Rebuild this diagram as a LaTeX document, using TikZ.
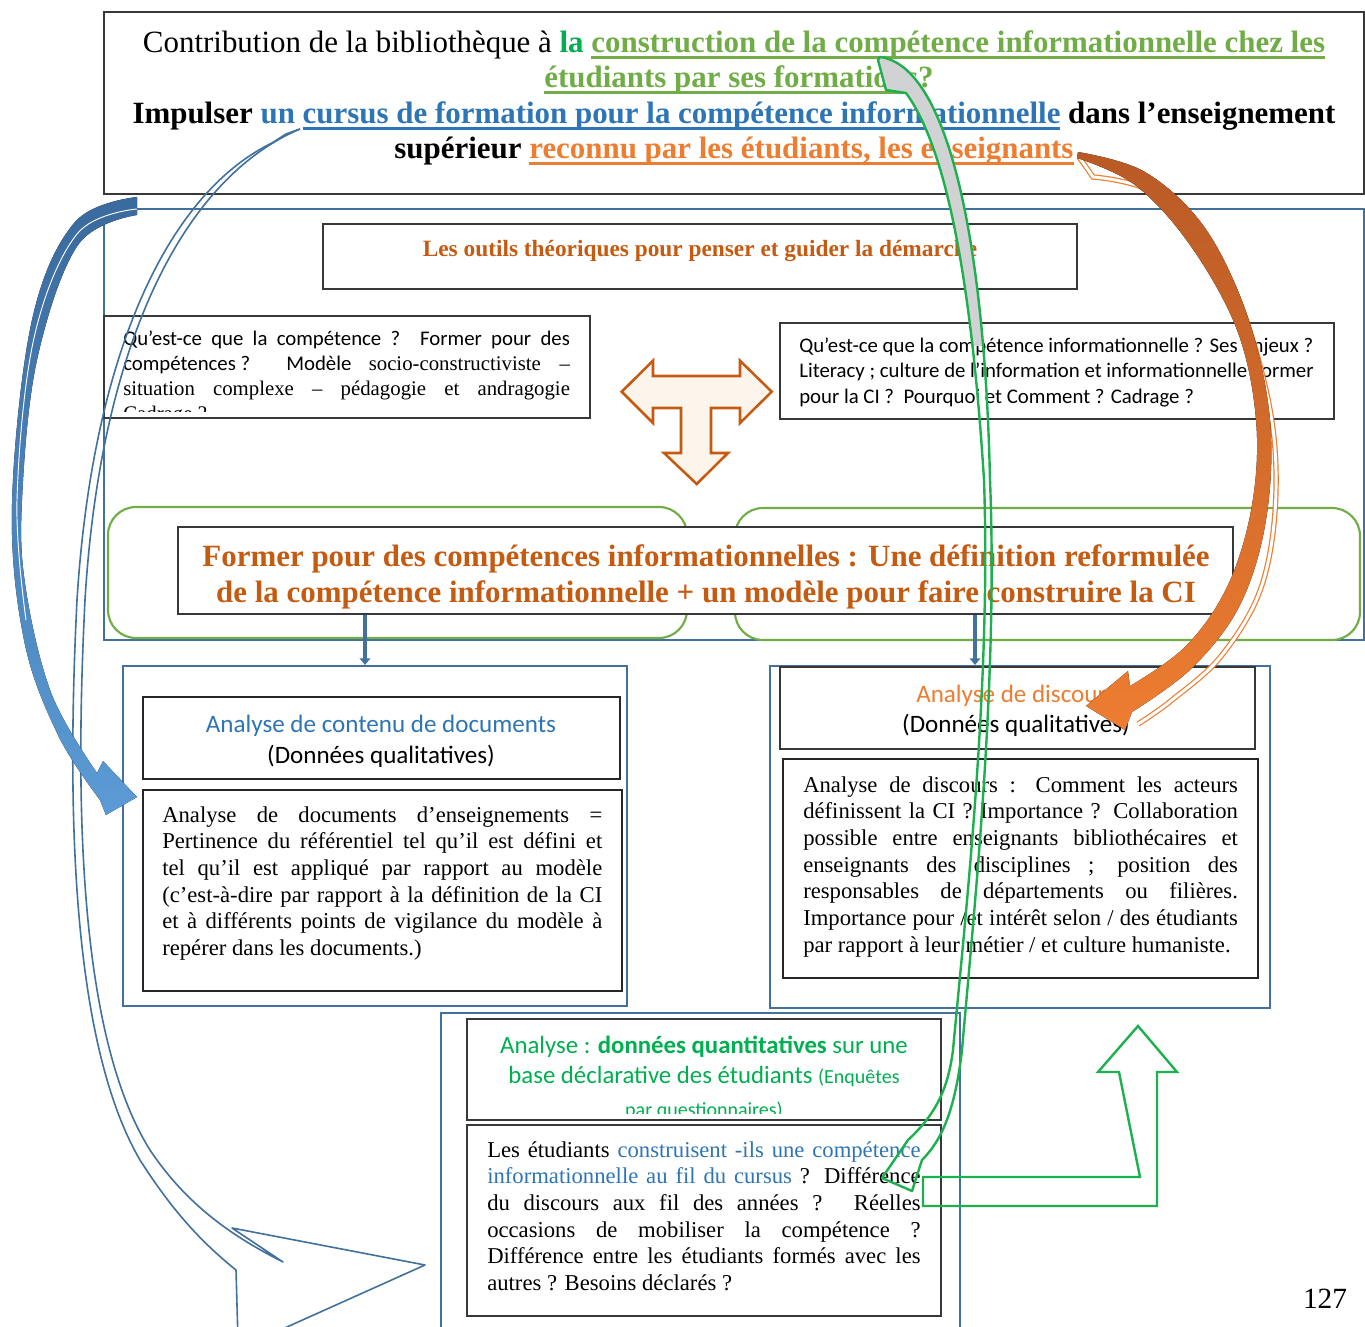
\documentclass[tikz,border=0pt]{standalone}
\usepackage{fontspec}
\setmainfont{Liberation Serif}
\newfontfamily\cali{Carlito}
\usetikzlibrary{arrows.meta,fit}
\definecolor{cframe}{HTML}{41719C}
\definecolor{cblue}{HTML}{2E75B6}
\definecolor{corange}{HTML}{ED7D31}
\definecolor{corangeD}{HTML}{C55A11}
\definecolor{cgreenA}{HTML}{00B050}
\definecolor{cgreenB}{HTML}{70AD47}
\definecolor{cgreenL}{HTML}{1DB04E}
\definecolor{ccream}{HTML}{FBF5EB}
\definecolor{cgray}{HTML}{D0D2D3}
\definecolor{cblueD}{HTML}{3A6A9E}
\definecolor{cblueL}{HTML}{5B9BD5}
\definecolor{corangeT}{HTML}{B95A25}
\newcommand\myul[1]{\setbox0=\hbox{#1}\rlap{\raisebox{-4.6pt}{\rule{\wd0}{2.1pt}}}\box0}
\begin{document}
\begin{tikzpicture}[x=0.75pt,y=-0.75pt,
  box/.style={draw=black!78, fill=white, line width=1.1pt, inner sep=0pt},
  boxb/.style={draw=black!85, fill=white, line width=1.5pt, inner sep=0pt},
  bframe/.style={draw=cframe, line width=1.6pt, inner sep=0pt},
  gframe/.style={draw=cgreenB, line width=1.6pt, rounded corners=21pt, inner sep=0pt},
  conn/.style={draw=cframe, line width=2.6pt, -{Triangle[length=5pt,width=8pt]}},
  ttl/.style={anchor=base, inner sep=0pt, font=\fontsize{23.2}{27}\selectfont},
  lbl/.style={anchor=base, inner sep=0pt},
  para/.style={anchor=north west, inner sep=0pt, font=\fontsize{17}{20}\selectfont},
  bline/.style={draw=cframe, line width=1.2pt, line join=round},
]
\useasboundingbox (0,0) rectangle (1365,1327);
\fill[white] (0,0) rectangle (1365,1327);

% ---------- title ----------
\node[box, fit={(104,12) (1364,194)}] (title) {};
\node[ttl] (t1) at (734,53) {Contribution de la bibliothèque à {\bfseries\color{cgreenA}la {\color{cgreenB}\myul{construction de la compétence informationnelle chez les}}}};
\node[ttl] (t2) at (739,88) {\bfseries\color{cgreenB}\myul{étudiants par ses formations} ?};
\node[ttl] (t3) at (734,124) {\bfseries Impulser {\color{cblue}un \myul{cursus de formation pour la compétence informationnelle}} dans l’enseignement};
\node[ttl] (t4) at (734,159) {\bfseries supérieur {\color{corange}\myul{reconnu par les étudiants, les enseignants}}};

% ---------- upper frame ----------
\node[bframe, fit={(104,209) (1364,640)}] (frame) {};
\node[box, fit={(323,224) (1077,289)}] (outils) {};
\node[lbl, font=\fontsize{17.5}{21}\selectfont\bfseries, text=corangeD] (outilst) at (700,257) {Les outils théoriques pour penser et guider la démarche};

\node[box, fit={(104,316) (590,418)}] (qleft) {};
\begin{scope}
\clip (104,316) rectangle (590,411);
\node[anchor=north west, inner sep=0pt, font=\cali\fontsize{15.6}{18.75}\selectfont] (qleftt) at (123,327.7) {\vbox{%
\hbox to 335pt{\rule{0pt}{13pt}Qu’est-ce que la compétence ? Former pour des}%
\hbox to 335pt{compétences ?\hspace{27pt}Modèle\hspace{13pt}{\rmfamily socio-constructiviste\hfill–}}%
\hbox to 335pt{\rmfamily situation complexe – pédagogie et andragogie}%
\hbox{\rmfamily Cadrage ?}}};
\end{scope}

\node[box, fit={(780,323) (1334,419)}] (qright) {};
\node[anchor=north west, inner sep=0pt, font=\cali\fontsize{15.6}{19.1}\selectfont] (qrightt) at (799,334.7) {\vbox{%
\hbox{\rule{0pt}{13pt}Qu’est-ce que la compétence informationnelle ? Ses enjeux ?}%
\hbox{Literacy ; culture de l’information et informationnelle Former}%
\hbox{pour la CI ?\ \ Pourquoi et Comment ? Cadrage ?}}};

% T-shaped arrow
\filldraw[fill=ccream, draw=corangeD, line width=1.9pt, line join=miter]
 (621.7,391.7) -- (653,360.7) -- (653,376) -- (740,376) -- (740,360.7) -- (771.7,391.7)
 -- (740,423) -- (740,408) -- (711,408) -- (711,453) -- (728,453) -- (696.7,484)
 -- (664,453) -- (681,453) -- (681,408) -- (653,408) -- (653,423) -- cycle;

\node[gframe, fit={(108,507) (687,638)}] (gl) {};
\node[gframe, fit={(735,508) (1360,640)}] (gr) {};
\node[box, fit={(178,527) (1233,614)}] (former) {};
\node[ttl, text=corangeD, font=\fontsize{23.2}{27}\selectfont\bfseries] (f1) at (706,566) {Former pour des compétences informationnelles : Une définition reformulée};
\node[ttl, text=corangeD, font=\fontsize{23.2}{27}\selectfont\bfseries] (f2) at (706,602) {de la compétence informationnelle + un modèle pour faire construire la CI};

% ---------- left analysis ----------
\node[bframe, fit={(123,666) (627,1006)}] (leftana) {};
\node[boxb, fit={(143,697) (620,779)}] (lhead) {};
\node[lbl, font=\cali\fontsize{18.8}{23}\selectfont, text=cblue] (lh1) at (381,732) {Analyse de contenu de documents};
\node[lbl, font=\cali\fontsize{18.8}{23}\selectfont] (lh2) at (381,763) {(Données qualitatives)};
\node[boxb, fit={(143,790) (622,991)}] (lbody) {};
\node[para] (lbodyt) at (162,803.3) {\vbox{%
\hbox to 330pt{\rule{0pt}{14pt}Analyse de documents d’enseignements =}%
\hbox to 330pt{Pertinence du référentiel tel qu’il est défini et}%
\hbox to 330pt{tel qu’il est appliqué par rapport au modèle}%
\hbox to 330pt{(c’est-à-dire par rapport à la définition de la CI}%
\hbox to 330pt{et à différents points de vigilance du modèle à}%
\hbox{repérer dans les documents.)}}};

% ---------- right analysis ----------
\node[bframe, fit={(770,666) (1270,1008)}] (rightana) {};
\node[box, fit={(780,667) (1255,749)}] (rhead) {};
\node[lbl, font=\cali\fontsize{18.8}{23}\selectfont, text=corange] (rh1) at (1016,702) {Analyse de discours};
\node[lbl, font=\cali\fontsize{18.8}{23}\selectfont] (rh2) at (1016,732) {(Données qualitatives)};
\node[boxb, fit={(783,759) (1258,978)}] (rbody) {};
\node[para] (rbodyt) at (803,773.3) {\vbox{%
\hbox to 326pt{\rule{0pt}{14pt}Analyse de discours : Comment les acteurs}%
\hbox to 326pt{définissent la CI ? Importance ? Collaboration}%
\hbox to 326pt{possible entre enseignants bibliothécaires et}%
\hbox to 326pt{enseignants des disciplines ; position des}%
\hbox to 326pt{responsables de départements ou filières.}%
\hbox to 326pt{Importance pour /et intérêt selon / des étudiants}%
\hbox{par rapport à leur métier / et culture humaniste.}}};

% ---------- bottom analysis ----------
\draw[draw=cframe, line width=1.6pt] (441,1340) -- (441,1013) -- (960,1013) -- (960,1340);
\node[box, fit={(467,1019) (941,1120)}] (bhead) {};
\begin{scope}
\clip (467,1019) rectangle (941,1113);
\node[lbl, font=\cali\fontsize{18.6}{22.5}\selectfont, text=cgreenA] (bh1) at (704,1053) {Analyse : {\bfseries données quantitatives} sur une};
\node[lbl, font=\cali\fontsize{18.6}{22.5}\selectfont, text=cgreenA] (bh2) at (704,1083) {base déclarative des étudiants {\fontsize{15}{18}\selectfont(Enquêtes}};
\node[lbl, font=\cali\fontsize{15}{18}\selectfont, text=cgreenA] (bh3) at (704,1116) {par questionnaires)};
\end{scope}
\node[box, fit={(467,1125) (941,1316)}] (bbody) {};
\node[para] (bbodyt) at (487,1138.3) {\vbox{%
\hbox to 325pt{\rule{0pt}{14pt}Les étudiants {\color{cblue}construisent -ils une compétence}}%
\hbox to 325pt{{\color{cblue}informationnelle au fil du cursus} ? Différence}%
\hbox to 325pt{du discours aux fil des années ? Réelles}%
\hbox to 325pt{occasions de mobiliser la compétence ?}%
\hbox to 325pt{Différence entre les étudiants formés avec les}%
\hbox{autres ? Besoins déclarés ?}}};

\node[lbl, font=\fontsize{22}{26}\selectfont] (page) at (1325,1308) {127};

% ---------- small connectors ----------
\coordinate (xl) at (365,0);
\coordinate (xr) at (975,0);
\draw[conn] (former.south -| xl) -- (leftana.north -| xl);
\draw[conn] (former.south -| xr) -- (rightana.north -| xr);

% ---------- blue outline arrow ----------
\draw[bline] (272,143) -- (286,134) -- (300,129);
\draw[bline] (272,143) .. controls (165,195) and (92,360) .. (77,600)
  .. controls (67,800) and (70,1040) .. (140,1160)
  .. controls (175,1215) and (205,1245) .. (236,1270) -- (238,1340);
\draw[bline] (300,129) .. controls (180,180) and (100,350) .. (85,600)
  .. controls (75,800) and (78,1035) .. (150,1150)
  .. controls (190,1210) and (240,1240) .. (283,1262)
  -- (232,1228) -- (425,1265) -- (258,1340);

% ---------- blue thick arrow ----------
\fill[top color=cblueD, bottom color=cblueL]
 plot[smooth, tension=0.6] coordinates {(137,197) (75,222) (32,320) (12,504) (24,640) (58,735) (100,800)}
 -- (106,815) -- (137,797) -- (103,761) -- (97,773)
 -- plot[smooth, tension=0.6] coordinates {(97,773) (52,695) (26,590) (22,500) (37,360) (78,245) (137,215)} -- cycle;
\draw[white, line width=0.7pt] plot[smooth, tension=0.6] coordinates {(137,209) (77,234) (34,338) (17,500) (26,620)};

% ---------- green arrow ----------
\def\greenarrow{(880,57) .. controls (950,66) and (985,250) .. (990,480)
 .. controls (998,680) and (975,900) .. (962,1050)
 .. controls (955,1110) and (942,1140) .. (922,1160)
 -- (912,1191) -- (882,1178) -- (908,1140)
 .. controls (935,1115) and (948,1090) .. (953,1050)
 .. controls (967,900) and (991,680) .. (984,480)
 .. controls (972,290) and (948,150) .. (906,93)
 -- (886,90) -- (878,60) -- cycle}
\begin{scope}
\clip (800,40) rectangle (1100,345);
\fill[cgray] \greenarrow;
\end{scope}
\draw[cgreenL, line width=1.8pt, line join=round] \greenarrow;

% green L arrow
\draw[cgreenL, line width=1.8pt, line join=miter]
 (923,1177) -- (1140,1177) -- (1119,1072) -- (1098,1072) -- (1138,1026) -- (1177,1072)
 -- (1157,1072) -- (1157,1206) -- (923,1206) -- cycle;

% ---------- orange arrow ----------
\draw[corange, line width=0.9pt, double=white, double distance=2.2pt]
 (1079,157) -- (1093,177) -- plot[smooth, tension=0.6] coordinates {(1093,177) (1160,196) (1226,272) (1266,390) (1276,490) (1262,585) (1222,655) (1172,700) (1138,724)};
\fill[top color=corangeT, bottom color=corange]
 plot[smooth, tension=0.6] coordinates {(1078,152) (1145,172) (1205,228) (1248,318) (1270,420) (1266,520) (1240,605) (1192,668) (1132,712)}
 -- (1125,730) -- (1086,706) -- (1128,671) -- (1130,686)
 -- plot[smooth, tension=0.6] coordinates {(1130,686) (1186,646) (1228,585) (1252,505) (1256,420) (1237,330) (1190,245) (1135,185) (1077,158)} -- cycle;
\end{tikzpicture}
\end{document}
